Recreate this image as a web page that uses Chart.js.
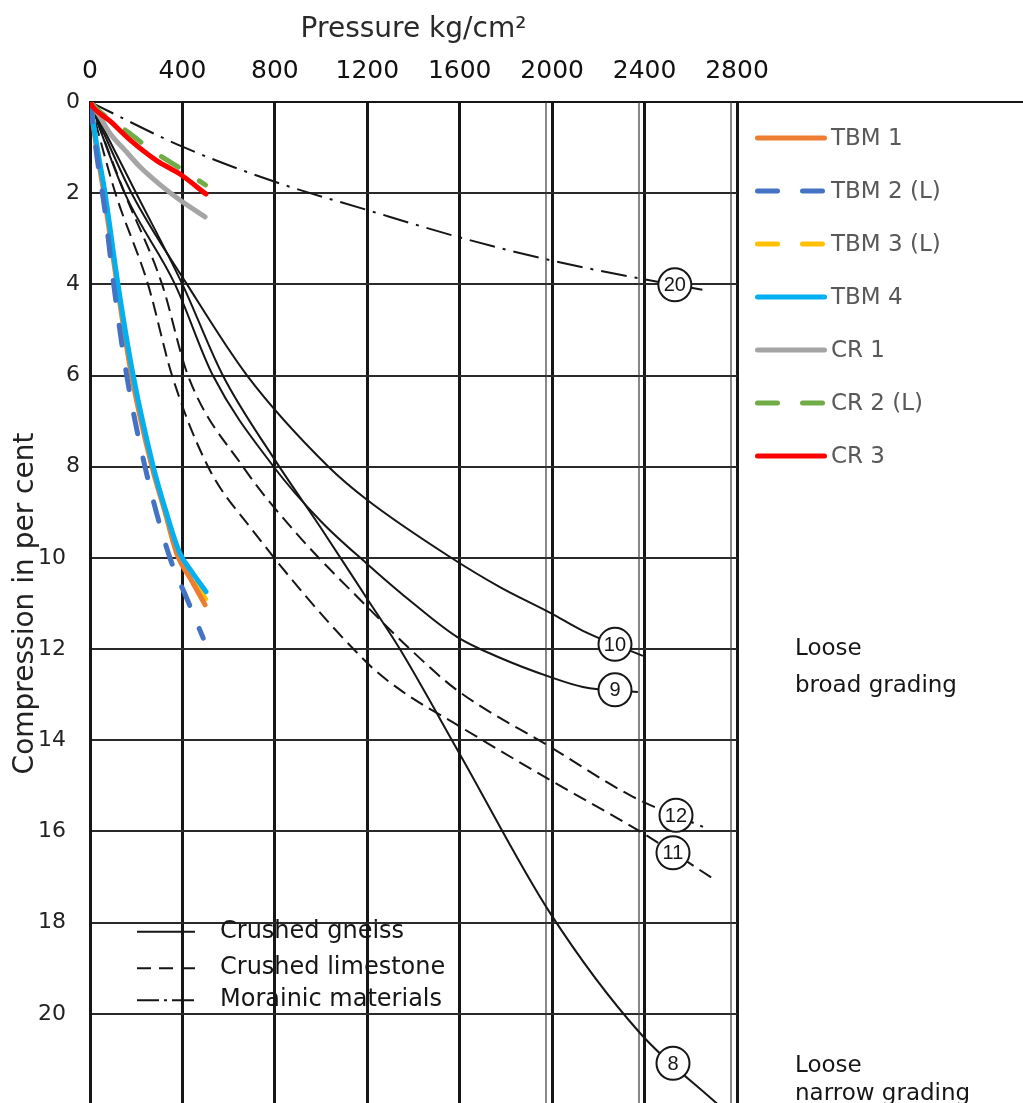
<!DOCTYPE html>
<html>
<head>
<meta charset="utf-8">
<title>Compression vs pressure</title>
<script src="https://cdn.jsdelivr.net/npm/chart.js@4.4.1/dist/chart.umd.min.js"></script>
<style>
  html, body { margin: 0; padding: 0; background: #fff; overflow: hidden; }
  canvas { display: block; }
</style>
</head>
<body>
<canvas id="chart" width="1023" height="1105"></canvas>
<script>
// axes: pressure in kg/cm², compression in per cent
const pressureTicks = [0, 400, 800, 1200, 1600, 2000, 2400, 2800];
const compressionTicks = [0, 2, 4, 6, 8, 10, 12, 14, 16, 18, 20];

// test runs (pressure / compression pairs)
const testNames = ['TBM 1', 'TBM 2 (L)', 'TBM 3 (L)', 'TBM 4', 'CR 1', 'CR 2 (L)', 'CR 3'];
const tbm1P = [0, 28, 60, 117, 180, 268, 325, 375, 440, 498];
const tbm1C = [0, 1.0, 2.0, 4.0, 6.0, 8.0, 9.0, 9.9, 10.5, 11.03];
const tbm2P = [0, 30, 65, 100, 159, 238, 346, 420, 490];
const tbm2C = [0, 1.2, 2.4, 3.9, 6.0, 8.0, 10.0, 10.9, 11.76];
const tbm3P = [0, 30, 62, 119, 183, 271, 328, 382, 440, 500];
const tbm3C = [0, 1.0, 2.0, 4.0, 6.0, 8.0, 9.0, 9.9, 10.4, 10.9];
const tbm4P = [0, 31, 65, 121, 187, 274, 330, 389, 440, 502];
const tbm4C = [0, 1.0, 2.0, 4.0, 6.0, 8.0, 9.0, 9.9, 10.3, 10.74];
const cr1P = [0, 40, 87, 150, 216, 300, 389, 498];
const cr1C = [0, 0.3, 0.69, 1.05, 1.42, 1.8, 2.15, 2.52];
const cr2P = [0, 40, 90, 173, 250, 332, 420, 500];
const cr2C = [0, 0.2, 0.4, 0.69, 1.0, 1.27, 1.55, 1.82];
const cr3P = [0, 13, 87, 173, 290, 389, 502];
const cr3C = [0, 0.11, 0.42, 0.83, 1.29, 1.58, 2.02];

// published reference curves, numbered as in the source figure
const materialNames = ['Crushed gneiss', 'Crushed limestone', 'Morainic materials'];
const curve8P = [0, 200, 400, 575, 800, 1000, 1200, 1341, 1600, 1990, 2380, 2720];
const curve8C = [0, 2.0, 4.0, 6.0, 7.85, 9.35, 10.9, 12.0, 14.3, 17.78, 20.42, 22.0];
const curve9P = [0, 150, 368, 532, 795, 1000, 1197, 1400, 1588, 1774, 1990, 2133, 2371];
const curve9C = [0, 2.0, 4.0, 6.0, 8.0, 9.2, 10.12, 11.0, 11.73, 12.19, 12.61, 12.83, 12.94];
const curve10P = [0, 180, 420, 680, 1032, 1200, 1558, 1774, 1990, 2133, 2393];
const curve10C = [0, 2.0, 4.0, 6.0, 8.0, 8.73, 9.98, 10.64, 11.2, 11.6, 12.15];
const curve11P = [0, 110, 251, 355, 511, 692, 1199, 1341, 1601, 1990, 2380, 2704];
const curve11C = [0, 2.0, 4.0, 6.0, 8.0, 9.32, 12.3, 12.89, 13.7, 14.87, 16.0, 17.06];
const curve12P = [0, 150, 312, 424, 662, 900, 1199, 1385, 1588, 1990, 2350, 2653];
const curve12C = [0, 2.0, 4.0, 6.0, 8.0, 9.5, 11.07, 12.0, 12.9, 14.14, 15.24, 15.9];
const curve20P = [0, 400, 800, 1200, 1600, 2000, 2400, 2650];
const curve20C = [0, 0.98, 1.75, 2.37, 2.97, 3.48, 3.89, 4.12];
// pressure where each curve number sits
const tagPressure = { '8': 2523, '9': 2272, '10': 2272, '11': 2523, '12': 2536, '20': 2531 };
// grid lines that are ruled double on the sheet
const doubledTicks = [2000, 2400, 2800];

const INK = '#161616';
const KEY_TEXT = '#595959';
const SCAN_FONT = '"DejaVu Sans", sans-serif';
const testColors = ['#ED7D31', '#4472C4', '#FFC000', '#00B0F0', '#A5A5A5', '#70AD47', '#FF0000'];
const testDashed = [false, true, true, false, false, true, false];
const testOrder = [2, 1, 3, 1, 1, 2, 0];
const materialDash = [[], [14, 7], [26, 8, 3, 8]];
const materialKeyDash = [[], [14, 8], [22, 5, 3, 5]];

function toPoints(p, c) {
    return p.map((x, i) => ({ x, y: c[i] }));
}

// linear lookup along a curve, used to seat the number tags
function valueAt(points, x) {
    for (let i = 1; i < points.length; i++) {
        const a = points[i - 1], b = points[i];
        if (x <= b.x) return a.y + (b.y - a.y) * (x - a.x) / (b.x - a.x);
    }
    return points[points.length - 1].y;
}

const testSeries = [
    [tbm1P, tbm1C], [tbm2P, tbm2C], [tbm3P, tbm3C], [tbm4P, tbm4C],
    [cr1P, cr1C], [cr2P, cr2C], [cr3P, cr3C],
].map(([p, c], i) => ({
    label: testNames[i],
    data: toPoints(p, c),
    borderColor: testColors[i],
    backgroundColor: testColors[i],
    borderWidth: 5,
    borderDash: testDashed[i] ? [20, 25] : [],
    borderCapStyle: 'round',
    borderJoinStyle: 'round',
    pointRadius: 0,
    cubicInterpolationMode: 'monotone',
    fill: false,
    order: testOrder[i],
    key: 'test',
}));

const referenceSeries = [
    ['8', curve8P, curve8C, 0], ['9', curve9P, curve9C, 0], ['10', curve10P, curve10C, 0],
    ['11', curve11P, curve11C, 1], ['12', curve12P, curve12C, 1], ['20', curve20P, curve20C, 2],
].map(([tag, p, c, kind]) => ({
    label: 'Curve ' + tag,
    data: toPoints(p, c),
    borderColor: INK,
    borderWidth: 2,
    borderDash: materialDash[kind],
    pointRadius: 0,
    cubicInterpolationMode: 'monotone',
    fill: false,
    order: 10,
    tag,
}));

// thin companion rules beside the last grid lines
const doubleRules = {
    id: 'doubleRules',
    beforeDatasetsDraw(chart) {
        const { ctx, chartArea, scales: { x } } = chart;
        ctx.save();
        ctx.strokeStyle = '#3a3a3a';
        ctx.lineWidth = 1.2;
        doubledTicks.forEach((v) => {
            const px = Math.round(x.getPixelForValue(v)) - 6;
            ctx.beginPath();
            ctx.moveTo(px, chartArea.top);
            ctx.lineTo(px, chartArea.bottom);
            ctx.stroke();
        });
        ctx.restore();
    },
};

// circled curve numbers
const curveTags = {
    id: 'curveTags',
    afterDatasetsDraw(chart) {
        const { ctx, scales: { x, y } } = chart;
        ctx.save();
        ctx.font = '20px "Liberation Sans", sans-serif';
        ctx.textAlign = 'center';
        ctx.textBaseline = 'middle';
        chart.data.datasets.forEach((ds) => {
            if (!ds.tag) return;
            const at = tagPressure[ds.tag];
            const px = x.getPixelForValue(at);
            const py = y.getPixelForValue(valueAt(ds.data, at));
            ctx.beginPath();
            ctx.arc(px, py, 16.5, 0, Math.PI * 2);
            ctx.fillStyle = '#fff';
            ctx.fill();
            ctx.lineWidth = 2;
            ctx.strokeStyle = INK;
            ctx.stroke();
            ctx.fillStyle = INK;
            ctx.fillText(ds.tag, px, py + 1);
        });
        ctx.restore();
    },
};

// legend of the test runs, beside the plot
const testKey = {
    id: 'testKey',
    afterDraw(chart) {
        const { ctx, chartArea } = chart;
        const x0 = chartArea.right + 18;
        const len = 72;
        ctx.save();
        ctx.font = '23px ' + SCAN_FONT;
        ctx.textBaseline = 'middle';
        chart.data.datasets.filter((d) => d.key === 'test').forEach((ds, i) => {
            const yy = chartArea.top + 36 + i * 53;
            ctx.strokeStyle = ds.borderColor;
            ctx.lineWidth = 5;
            ctx.lineCap = 'round';
            ctx.setLineDash(ds.borderDash);
            ctx.beginPath();
            ctx.moveTo(x0 + 2.5, yy);
            ctx.lineTo(x0 + len - 2.5, yy);
            ctx.stroke();
            ctx.setLineDash([]);
            ctx.fillStyle = KEY_TEXT;
            ctx.fillText(ds.label, x0 + len + 4, yy + 1);
        });
        ctx.restore();
    },
};

// line-style key for the reference materials, plus the grading notes
const materialKey = {
    id: 'materialKey',
    afterDraw(chart) {
        const { ctx, chartArea, scales: { y } } = chart;
        ctx.save();
        // top frame line runs on past the plot
        ctx.strokeStyle = INK;
        ctx.lineWidth = 2;
        ctx.beginPath();
        ctx.moveTo(chartArea.right, chartArea.top);
        ctx.lineTo(chart.width, chartArea.top);
        ctx.stroke();

        ctx.font = '24px ' + SCAN_FONT;
        ctx.textBaseline = 'middle';
        ctx.fillStyle = INK;
        const rows = [18.2, 19.0, 19.7];
        materialNames.forEach((name, i) => {
            const yy = y.getPixelForValue(rows[i]);
            ctx.setLineDash(materialKeyDash[i]);
            ctx.lineWidth = 2;
            ctx.beginPath();
            ctx.moveTo(chartArea.left + 47, yy);
            ctx.lineTo(chartArea.left + 105, yy);
            ctx.stroke();
            ctx.setLineDash([]);
            ctx.fillText(name, chartArea.left + 130, yy);
        });

        ctx.font = '23px ' + SCAN_FONT;
        const nx = chartArea.right + 58;
        ctx.fillText('Loose', nx, y.getPixelForValue(12.0));
        ctx.fillText('broad grading', nx, y.getPixelForValue(12.8));
        ctx.fillText('Loose', nx, y.getPixelForValue(21.15));
        ctx.fillText('narrow grading', nx, y.getPixelForValue(21.75));
        ctx.restore();
    },
};

new Chart(document.getElementById('chart'), {
    type: 'line',
    data: { datasets: [...testSeries, ...referenceSeries] },
    options: {
        responsive: false,
        animation: false,
        devicePixelRatio: 1,
        layout: { padding: { left: 0, right: 286, top: 0, bottom: 0 } },
        plugins: { legend: { display: false }, tooltip: { enabled: false } },
        scales: {
            x: {
                type: 'linear',
                position: 'top',
                min: 0,
                max: 2800,
                afterBuildTicks: (s) => { s.ticks = pressureTicks.map((value) => ({ value })); },
                afterFit: (s) => { s.height = 102; s.paddingLeft = 0; s.paddingRight = 0; },
                ticks: {
                    font: { family: SCAN_FONT, size: 25 },
                    color: '#111',
                    padding: 16,
                    maxRotation: 0,
                    callback: (v) => String(v),
                },
                grid: { color: INK, lineWidth: 3, drawTicks: false },
                border: { display: true, color: INK, width: 2 },
                title: {
                    display: true,
                    text: 'Pressure kg/cm²',
                    font: { family: SCAN_FONT, size: 28 },
                    color: '#2a2a2a',
                    padding: { top: 13, bottom: 0 },
                },
            },
            y: {
                type: 'linear',
                reverse: true,
                min: 0,
                max: 22,
                afterBuildTicks: (s) => { s.ticks = compressionTicks.map((value) => ({ value })); },
                afterFit: (s) => { s.width = 90; s.paddingTop = 0; s.paddingBottom = 0; },
                ticks: {
                    font: { family: SCAN_FONT, size: 22 },
                    color: '#222',
                    padding: 10,
                    callback: (v) => (v >= 10 ? v + '\u2007' : String(v)),
                },
                grid: { color: '#2a2a2a', lineWidth: 2, drawTicks: false },
                border: { display: true, color: INK, width: 3 },
                title: {
                    display: true,
                    text: 'Compression in per cent',
                    font: { family: SCAN_FONT, size: 28 },
                    color: '#222',
                    padding: { top: 9, bottom: 0 },
                },
            },
        },
    },
    plugins: [doubleRules, curveTags, testKey, materialKey],
});
</script>
</body>
</html>
